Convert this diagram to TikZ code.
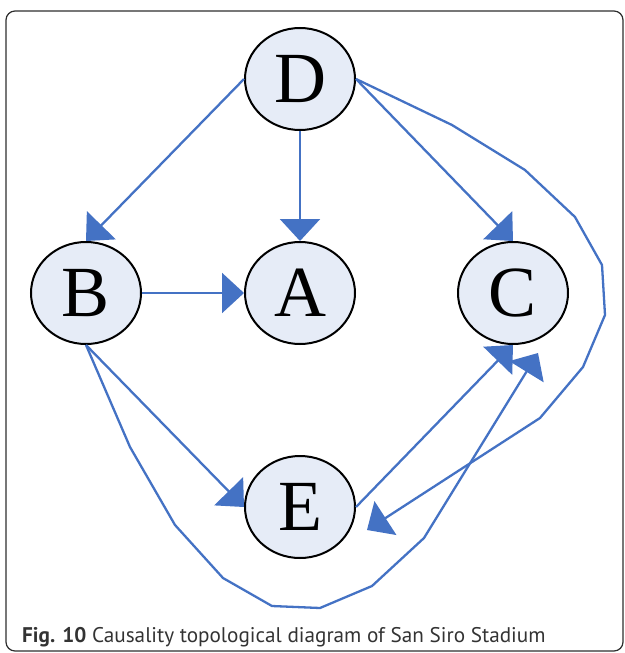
\documentclass[tikz,border=0pt]{standalone}
\usepackage{fontspec}
\setmainfont{Liberation Serif}
\newfontfamily\capfont{PT Sans}
\usetikzlibrary{arrows.meta,calc,shapes.geometric}
\definecolor{linkblue}{HTML}{4472C4}
\definecolor{nodefill}{HTML}{E6ECF7}
\definecolor{framegray}{HTML}{2E2E2E}
\definecolor{captext}{HTML}{333333}
\tikzset{
  event/.style={ellipse, draw=black, line width=2pt, fill=nodefill,
    minimum width=110pt, minimum height=102pt, inner sep=0pt,
    font=\fontsize{72}{72}\selectfont},
  link/.style={draw=linkblue, line width=2.3pt, line join=miter,
    -{Triangle[length=22pt,width=40pt]}},
}
\begin{document}
\begin{tikzpicture}[x=1pt,y=-1pt]
  \useasboundingbox (0,0) rectangle (624,653);
  % outer frame
  \draw[framegray, line width=1.2pt, rounded corners=9pt] (6,11) rectangle (623,651);

  % events
  \node[event] (D) at (300,79) {D};
  \node[event] (B) at (86,293) {B};
  \node[event] (A) at (300,293) {A};
  \node[event] (C) at (513,293) {C};
  \node[event] (E) at (300,507) {E};

  % free ends of the two long links
  \coordinate (deTip) at (367,530);
  \coordinate (bcTip) at (538,353);

  % direct links
  \draw[link] (D.west) -- (B.north);
  \draw[link] (D.south) -- (A.north);
  \draw[link] (D.east) -- (C.north);
  \draw[link] (B.east) -- (A.west);
  \draw[link] (B.south) -- (E.west);
  \draw[link] (E.east) -- (C.south);

  % D to E, routed round the right side
  \draw[link] (D.east) -- (452,125) -- (525,170) -- (575,217) -- (602,265)
    -- (605,315) -- (583,367) -- (540,418) -- (deTip);

  % B to C, routed under E
  \draw[link] (B.south) -- (130,447) -- (175,525) -- (223,578) -- (272,606)
    -- (320,608) -- (372,586) -- (424,538) -- (bcTip);

  % caption
  \node[anchor=base west, inner sep=0pt, text=captext, font=\capfont\fontsize{21.2}{21.2}\selectfont]
    (cap) at (22,642) {\textbf{Fig. 10} Causality topological diagram of San Siro Stadium};
\end{tikzpicture}
\end{document}
